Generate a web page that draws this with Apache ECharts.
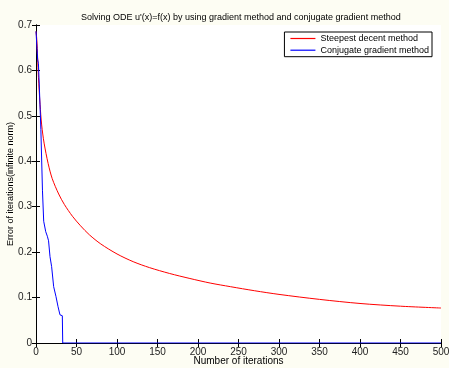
<!DOCTYPE html>
<html>
<head>
<meta charset="utf-8">
<script src="https://cdn.jsdelivr.net/npm/echarts@6/dist/echarts.min.js"></script>
<style>
  html, body { margin: 0; padding: 0; background: #fdfdf3; }
  #main { width: 449px; height: 368px; }
</style>
</head>
<body>
<div id="main"></div>
<script>
// steepest decent method
var sdIters = [0, 1, 2, 3, 5, 7, 10, 15, 20, 28, 35, 45, 55, 66, 80, 100, 120, 140, 165, 190, 215, 240, 270, 300, 350, 400, 450, 500];
var sdError = [0.686, 0.668, 0.628, 0.585, 0.525, 0.48, 0.44, 0.395, 0.362, 0.328, 0.305, 0.279, 0.258, 0.238, 0.218, 0.196, 0.179, 0.166, 0.153, 0.142, 0.132, 0.124, 0.115, 0.107, 0.096, 0.087, 0.081, 0.077];
// conjugate gradient method
var cgIters = [0, 2, 3, 4, 6, 8, 9.5, 12, 14, 15.5, 17.3, 19.3, 21.8, 24.7, 27.2, 29.6, 31, 32.5, 33, 500];
var cgError = [0.686, 0.625, 0.615, 0.57, 0.47, 0.335, 0.268, 0.245, 0.235, 0.225, 0.19, 0.168, 0.124, 0.102, 0.08, 0.062, 0.06, 0.06, 0, 0];

var xTicks = { min: 0, max: 500, interval: 50 };
var yTicks = { min: 0, max: 0.7, interval: 0.1 };

function pairs(xs, ys) {
    return xs.map(function (x, i) { return [x, ys[i]]; });
}

var font = 'Liberation Sans, Arial, sans-serif';
var myChart = echarts.init(document.getElementById('main'));
var option = {
    backgroundColor: '#fdfdf3',
    textStyle: { fontFamily: font },
    title: {
        text: "Solving ODE u'(x)=f(x) by using gradient method and conjugate gradient method",
        left: 76,
        top: 8,
        textStyle: { fontSize: 9, fontWeight: 'normal', color: '#000', fontFamily: font }
    },
    legend: {
        orient: 'vertical',
        right: 17,
        top: 32,
        icon: 'rect',
        itemWidth: 25,
        itemHeight: 1.2,
        itemGap: 1.7,
        padding: [1.5, 3, 1.5, 6],
        borderColor: '#000',
        borderWidth: 1,
        backgroundColor: '#fff',
        textStyle: { fontSize: 9, lineHeight: 10, color: '#000', fontFamily: font },
        data: ['Steepest decent method', 'Conjugate gradient method']
    },
    grid: {
        left: 36,
        right: 8,
        top: 25,
        bottom: 25,
        outerBoundsMode: 'none',
        containLabel: false,
        show: true,
        backgroundColor: '#fff',
        borderWidth: 0
    },
    xAxis: [
        {
            type: 'value',
            min: xTicks.min, max: xTicks.max, interval: xTicks.interval,
            position: 'bottom',
            name: 'Number of iterations',
            nameLocation: 'middle',
            nameMoveOverlap: false,
            nameGap: 13,
            nameTextStyle: { fontSize: 10, color: '#000' },
            axisLine: { lineStyle: { color: '#000', width: 1 } },
            axisTick: { inside: true, length: 4, lineStyle: { color: '#000' } },
            axisLabel: { fontSize: 10, color: '#222', margin: 4 },
            splitLine: { show: false }
        },
        {
            type: 'value',
            min: xTicks.min, max: xTicks.max, interval: xTicks.interval,
            position: 'top',
            axisLine: { lineStyle: { color: '#000', width: 1 } },
            axisTick: { inside: true, length: 4, lineStyle: { color: '#000' } },
            axisLabel: { show: false },
            splitLine: { show: false }
        }
    ],
    yAxis: [
        {
            type: 'value',
            min: yTicks.min, max: yTicks.max, interval: yTicks.interval,
            position: 'left',
            name: 'Error of iterations(infinite norm)',
            nameLocation: 'middle',
            nameMoveOverlap: false,
            nameGap: 21,
            nameTextStyle: { fontSize: 9, color: '#000' },
            axisLine: { show: true, lineStyle: { color: '#000', width: 1 } },
            axisTick: { show: true, inside: true, length: 4, lineStyle: { color: '#000' } },
            axisLabel: { fontSize: 10, color: '#222', margin: 4 },
            splitLine: { show: false }
        },
        {
            type: 'value',
            min: yTicks.min, max: yTicks.max, interval: yTicks.interval,
            position: 'right',
            axisLine: { show: true, lineStyle: { color: '#000', width: 1 } },
            axisTick: { show: true, inside: true, length: 4, lineStyle: { color: '#000' } },
            axisLabel: { show: false },
            splitLine: { show: false }
        }
    ],
    series: [
        {
            name: 'Steepest decent method',
            type: 'line',
            smooth: 0.3,
            symbol: 'none',
            clip: false,
            color: '#ff0000',
            lineStyle: { color: '#ff0000', width: 1 },
            data: pairs(sdIters, sdError)
        },
        {
            name: 'Conjugate gradient method',
            type: 'line',
            symbol: 'none',
            clip: false,
            color: '#0000ff',
            lineStyle: { color: '#0000ff', width: 1 },
            data: pairs(cgIters, cgError)
        }
    ]
};
myChart.setOption(option);
</script>
</body>
</html>
